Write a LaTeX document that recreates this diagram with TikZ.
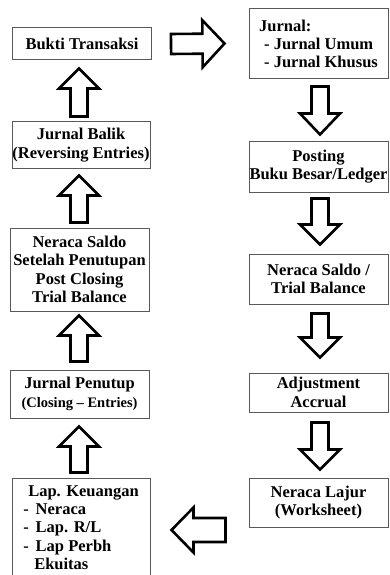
\documentclass[tikz,border=0pt]{standalone}
\usepackage{fontspec}
\setmainfont{Liberation Serif}
\usetikzlibrary{calc}
\tikzset{
  box/.style={draw=black!65, line width=1pt, fill=white, inner sep=0pt,
    align=center, font=\bfseries\fontsize{16.5}{18.3}\selectfont},
  blockarr/.style={draw=black, line width=2.6pt, line join=miter, fill=white},
}
\newcommand\blockarrow[5]{%
  \coordinate (hb) at ($(#2)!#5!(#1)$);
  \draw[blockarr] ($(#1)!#3!90:(#2)$) -- ($(hb)!#3!90:(#2)$) -- ($(hb)!#4!90:(#2)$)
    -- (#2) -- ($(hb)!#4!-90:(#2)$) -- ($(hb)!#3!-90:(#2)$) -- ($(#1)!#3!-90:(#2)$) -- cycle;}
\begin{document}
\begin{tikzpicture}[x=1pt,y=1pt]
\useasboundingbox[fill=white] (0,0) rectangle (390,-575);
% left column
\node[box, minimum width=139, minimum height=32] (bukti) at (82,-44) {Bukti Transaksi};
\node[box, minimum width=138, minimum height=46] (balik) at (81,-145) {Jurnal Balik\\(Reversing Entries)};
\node[box, minimum width=139, minimum height=83] (nsp) at (79.5,-269.5) {Neraca Saldo\\Setelah Penutupan\\Post Closing\\Trial Balance};
\node[box, minimum width=139, minimum height=48] (penutup) at (79.5,-394) {Jurnal Penutup\\{\fontsize{14.5}{16}\selectfont(Closing -- Entries)}};
\node[box, minimum width=138, minimum height=99, align=left] (lap) at (81,-527.5) {\hspace{5pt}Lap. Keuangan\\-\hspace{7pt}Neraca\\-\hspace{7pt}Lap. R/L\\-\hspace{7pt}Lap Perbh\\\hspace{11pt}Ekuitas};
% right column
\node[box, minimum width=139, minimum height=70, align=left] (jurnal) at (318.5,-44) {Jurnal:\\\hspace{5pt}- Jurnal Umum\\\hspace{5pt}- Jurnal Khusus};
\node[box, minimum width=139, minimum height=51] (posting) at (318.5,-166.5) {Posting\\Buku Besar/Ledger};
\node[box, minimum width=139, minimum height=50] (ns) at (318.5,-279) {Neraca Saldo /\\Trial Balance};
\node[box, minimum width=139, minimum height=39] (adj) at (318.5,-392.5) {Adjustment\\Accrual};
\node[box, minimum width=139, minimum height=49] (lajur) at (318.5,-502.5) {Neraca Lajur\\(Worksheet)};
% arrow end points
\coordinate (l1a) at ($(balik.north)+(-2,5)$);
\coordinate (l1b) at ($(bukti.south)+(-3,-8)$);
\coordinate (l2a) at ($(nsp.north)+(-0.5,5)$);
\coordinate (l2b) at ($(balik.south)+(-2,-7)$);
\coordinate (l3a) at ($(penutup.north)+(-0.5,8)$);
\coordinate (l3b) at ($(nsp.south)+(-0.5,-4)$);
\coordinate (l4a) at ($(lap.north)+(-2,5)$);
\coordinate (l4b) at ($(penutup.south)+(-0.5,-8)$);
\coordinate (r1a) at ($(jurnal.south)+(1.5,-7)$);
\coordinate (r1b) at ($(posting.north)+(1.5,6)$);
\coordinate (r2a) at ($(posting.south)+(1.5,-6)$);
\coordinate (r2b) at ($(ns.north)+(1.5,9)$);
\coordinate (r3a) at ($(ns.south)+(1.5,-9)$);
\coordinate (r3b) at ($(adj.north)+(1.5,15)$);
\coordinate (r4a) at ($(adj.south)+(1.5,-10)$);
\coordinate (r4b) at ($(lajur.north)+(1.5,8)$);
\coordinate (h1a) at ($(bukti.east)+(19,0)$);
\coordinate (h1b) at ($(jurnal.west)+(-24,0.5)$);
\coordinate (h2a) at ($(lajur.west)+(-23,-27.5)$);
\coordinate (h2b) at ($(lap.east)+(21,-2.5)$);
% arrows
\blockarrow{l1a}{l1b}{8.5pt}{20pt}{20pt}
\blockarrow{l2a}{l2b}{8.5pt}{20pt}{20pt}
\blockarrow{l3a}{l3b}{8.5pt}{20pt}{20pt}
\blockarrow{l4a}{l4b}{8.5pt}{20pt}{20pt}
\blockarrow{r1a}{r1b}{8.5pt}{20pt}{21pt}
\blockarrow{r2a}{r2b}{8.5pt}{20pt}{20pt}
\blockarrow{r3a}{r3b}{8.5pt}{20pt}{20pt}
\blockarrow{r4a}{r4b}{8.5pt}{20pt}{20pt}
\blockarrow{h1a}{h1b}{10pt}{23.5pt}{22pt}
\blockarrow{h2a}{h2b}{12pt}{22.5pt}{22pt}
\end{tikzpicture}
\end{document}
